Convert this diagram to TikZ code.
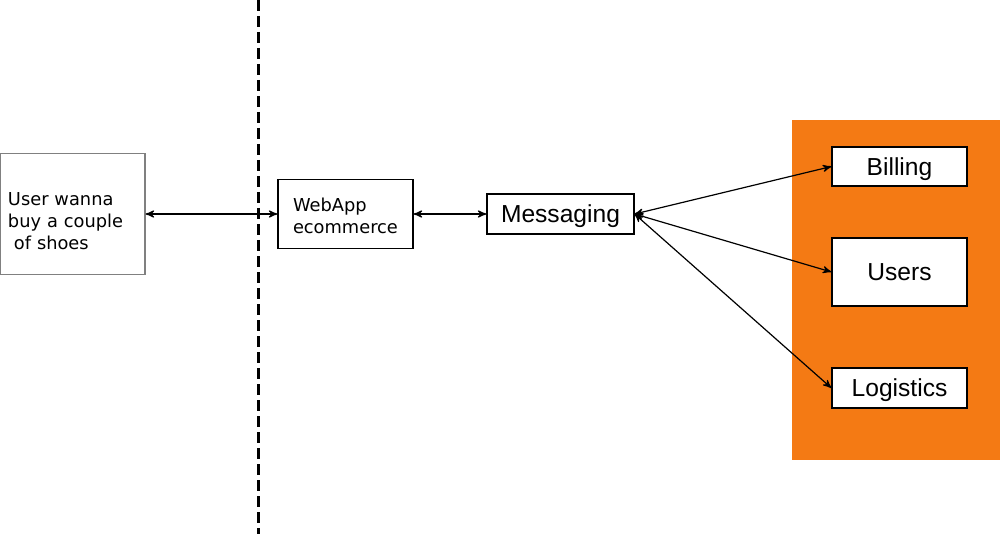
\documentclass[tikz,border=0pt]{standalone}
\usepackage{fontspec}
\setmainfont{DejaVu Sans}
\newfontfamily\arialfont{Liberation Sans}
\usepackage{tikz}
\usetikzlibrary{arrows}
\definecolor{dienstorange}{RGB}{244,122,20}
\tikzset{
    %Define standard arrow tip
    >=stealth',
    %Define style for boxes
    kasten/.style={
           rectangle,
           draw=black, line width=0.6pt,
           fill=white,
           inner sep=0pt},
    textkasten/.style={kasten,
           align=left,
           font=\fontsize{8.9}{11}\selectfont},
    dienst/.style={kasten,
           minimum width=67.5pt,
           text height=8.8pt, text depth=0pt,
           font=\arialfont\fontsize{12.3}{14}\selectfont},
    % Define arrow style
    pil/.style={
           <->,
           >=stealth',
           line width=0.6pt},
    % Define style for the dashed border line
    grenze/.style={
           line width=1.5pt,
           dash pattern=on 5.5pt off 2.5pt}
}

\begin{document}
\begin{tikzpicture}[x=0.5pt,y=-0.5pt]
  \useasboundingbox (0,0) rectangle (1000,534);
  % services area
  \fill[dienstorange] (792,120) rectangle (1000,460);
  \coordinate (oben) at (258,0);
  \coordinate (unten) at (258,534);
  \draw[grenze] (oben) -- (unten);
  \node[textkasten, draw=gray, inner xsep=4pt, text width=64.5pt, minimum height=60.5pt] (user) at (72.5,214)
    {\rule{0pt}{13.7pt}User wanna\\buy a couple\\\ of shoes};
  \node[textkasten, inner xsep=7.5pt, text width=52.5pt, minimum height=34.5pt] (webapp) at (345.5,214)
    {\rule{0pt}{8.8pt}WebApp\\ecommerce};
  \node[dienst, minimum width=73.5pt, minimum height=20pt] (messaging) at (560.5,214) {Messaging};
  \node[dienst, minimum height=19.5pt] (billing) at (899.5,166.5) {Billing};
  \node[dienst, minimum height=34pt] (users) at (899.5,272) {Users};
  \node[dienst, minimum height=20pt] (logistics) at (899.5,388) {Logistics};
  \path[pil]
    (user) edge (webapp)
    (webapp) edge (messaging)
    (messaging.east) edge (billing.west)
    (messaging.east) edge (users.west)
    (messaging.east) edge (logistics.west);
\end{tikzpicture}
\end{document}
